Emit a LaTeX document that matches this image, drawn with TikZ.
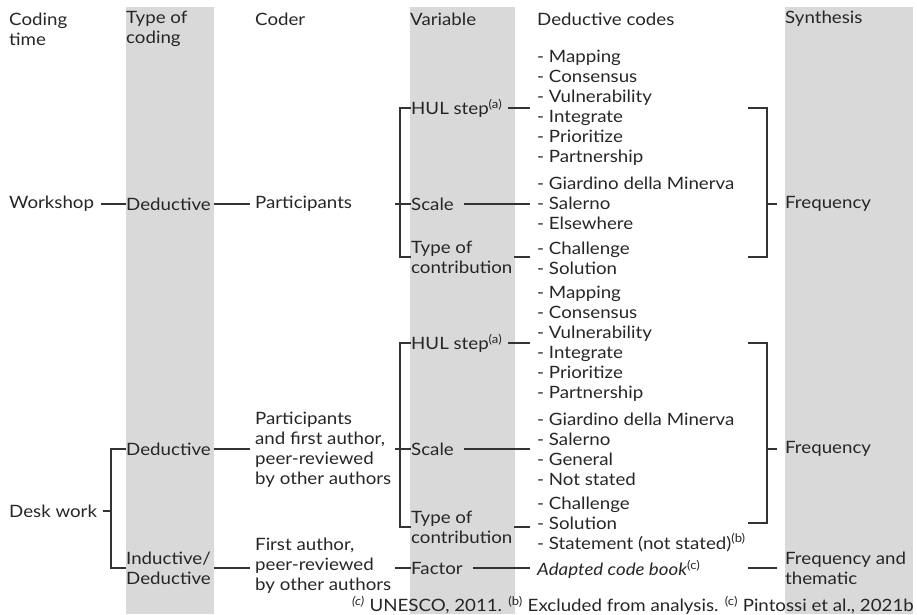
\documentclass[tikz,border=0pt]{standalone}
\usepackage{fontspec}
\setmainfont{Lato}[FakeStretch=1.1]
\begin{document}
\begin{tikzpicture}[x=1pt,y=-1pt,
  txt/.style={anchor=west,inner sep=0pt,align=left,text=black!85,font=\fontsize{17}{20}\selectfont},
  conn/.style={draw=black!80,line width=1.1pt},
  band/.style={fill=black!15,draw=none}]
\useasboundingbox (0,0) rectangle (917,614);
% gray bands
\fill[band] (126,7) rectangle (214,614);
\fill[band] (410,7) rectangle (515,614);
\fill[band] (785,7) rectangle (913,614);
% headers
\node[txt] (h1) at (9,29) {Coding\\time};
\node[txt] (h2) at (126,29) {Type of\\coding};
\node[txt] (h3) at (255,19) {Coder};
\node[txt] (h4) at (410,19) {Variable};
\node[txt] (h5) at (537,19) {Deductive codes};
\node[txt] (h6) at (785,19) {Synthesis};
% row 1
\node[txt] (ws) at (9,204) {Workshop};
\node[txt] (d1) at (126,204) {Deductive};
\node[txt] (p1) at (255,204) {Participants};
\node[txt] (hul1) at (411,108) {HUL step\textsuperscript{(a)}};
\node[txt] (sc1) at (411,204) {Scale};
\node[txt] (tc1) at (411,257) {Type of\\contribution};
\node[txt] (c1a) at (537,108) {- Mapping\\- Consensus\\- Vulnerability\\- Integrate\\- Prioritize\\- Partnership};
\node[txt] (c1b) at (537,203) {- Giardino della Minerva\\- Salerno\\- Elsewhere};
\node[txt] (c1c) at (537,258) {- Challenge\\- Solution};
\node[txt] (f1) at (785,204) {Frequency};
% row 2
\node[txt] (dw) at (9,511) {Desk work};
\node[txt] (d2) at (126,449) {Deductive};
\node[txt] (id) at (126,568) {Inductive/\\Deductive};
\node[txt] (p2) at (255,450) {Participants\\and first author,\\peer-reviewed\\by other authors};
\node[txt] (p3) at (255,566) {First author,\\peer-reviewed\\by other authors};
\node[txt] (hul2) at (411,343) {HUL step\textsuperscript{(a)}};
\node[txt] (sc2) at (411,449) {Scale};
\node[txt] (tc2) at (411,527) {Type of\\contribution};
\node[txt] (fa) at (411,568) {Factor};
\node[txt] (c2a) at (537,344) {- Mapping\\- Consensus\\- Vulnerability\\- Integrate\\- Prioritize\\- Partnership};
\node[txt] (c2b) at (537,449) {- Giardino della Minerva\\- Salerno\\- General\\- Not stated};
\node[txt] (c2c) at (537,524) {- Challenge\\- Solution\\- Statement (not stated)\textsuperscript{(b)}};
\node[txt] (c2d) at (537,569) {\textit{Adapted code book}\textsuperscript{(c)}};
\node[txt] (f3) at (785,449) {Frequency};
\node[txt] (f4) at (785,568) {Frequency and\\thematic};
% footnote
\node[anchor=east,inner sep=0pt,text=black!85,font=\fontsize{17}{20}\selectfont] (fn) at (914,605.5) {\textsuperscript{\textit{(c)}} UNESCO, 2011. \textsuperscript{(b)} Excluded from analysis. \textsuperscript{(c)} Pintossi et al., 2021b};
% coordinates
\coordinate (vbx) at (400,0);
\coordinate (cx) at (530,0);
\coordinate (rbl) at (748,0);
\coordinate (rbx) at (767,0);
\coordinate (rbt) at (777,0);
\coordinate (lbx) at (111,0);
\coordinate (cdx) at (250,0);
\coordinate (rb2b) at (748,523);
% row 1 connectors
\draw[conn] (ws.east) ++(7,0) -- (d1.west);
\draw[conn] (d1.east) ++(3,0) -- (d1.east -| cdx);
\draw[conn] (hul1.west) -- (hul1.west -| vbx) -- (tc1.west -| vbx) -- (tc1.west);
\draw[conn] (sc1.west) -- ++(-16,0);
\draw[conn] (hul1.east) ++(6,0) -- (hul1.east -| cx);
\draw[conn] (sc1.east) ++(10,0) -- (sc1.east -| cx);
\draw[conn] (tc1.east) ++(1,0) -- (tc1.east -| cx);
\draw[conn] (hul1 -| rbl) -- (hul1 -| rbx) -- (tc1 -| rbx) -- (tc1 -| rbl);
\draw[conn] (f1.west -| rbx) -- (f1.west -| rbt);
% row 2 connectors
\draw[conn] (dw.east) ++(6,0) -- (dw.east -| lbx);
\draw[conn] (d2.west) -- (d2.west -| lbx) -- (id.west -| lbx) -- (id.west);
\draw[conn] (d2.east) ++(3,0) -- (d2.east -| cdx);
\draw[conn] (id.east) ++(3,0) -- (id.east -| cdx);
\draw[conn] (hul2.west) -- (hul2.west -| vbx) -- (tc2.west -| vbx) -- (tc2.west);
\draw[conn] (sc2.west) -- ++(-16,0);
\draw[conn] (fa.west) -- ++(-16,0);
\draw[conn] (hul2.east) ++(6,0) -- (hul2.east -| cx);
\draw[conn] (sc2.east) ++(10,0) -- (sc2.east -| cx);
\draw[conn] (tc2.east) ++(1,0) -- (tc2.east -| cx);
\draw[conn] (fa.east) ++(10,0) -- (fa.east -| cx);
\draw[conn] (hul2 -| rbl) -- (hul2 -| rbx) -- (rb2b -| rbx) -- (rb2b);
\draw[conn] (f3.west -| rbx) -- (f3.west -| rbt);
\draw[conn] (f4.west -| rbl) -- (f4.west -| rbt);
\end{tikzpicture}
\end{document}
